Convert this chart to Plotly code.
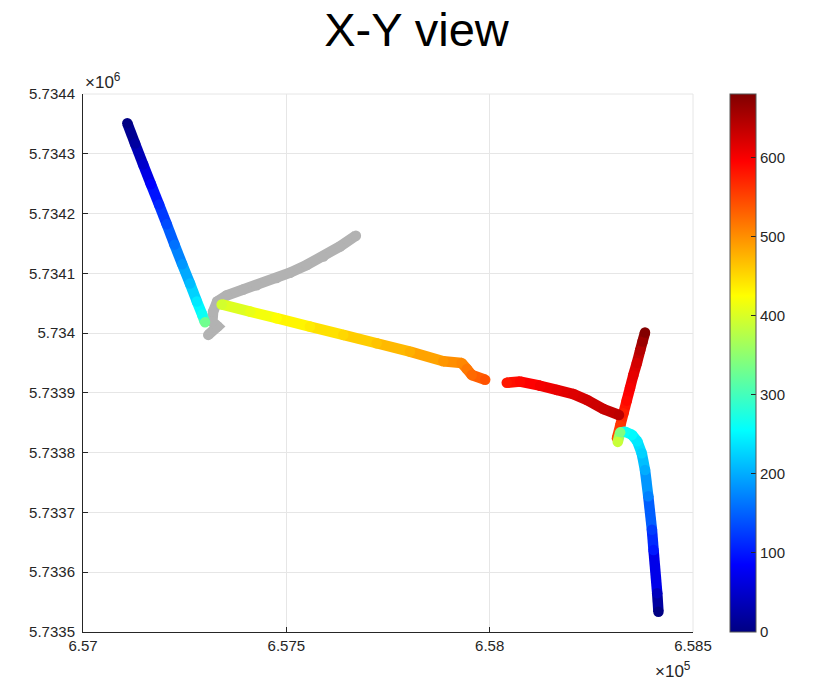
import plotly.graph_objects as go
from plotly.colors import sample_colorscale

# ---- data ----
TITLE = "X-Y view"
X_TICKS = [657000, 657500, 658000, 658500]
X_TICKTEXT = ["6.57", "6.575", "6.58", "6.585"]
Y_TICKS = [5733500, 5733600, 5733700, 5733800, 5733900, 5734000, 5734100, 5734200, 5734300, 5734400]
Y_TICKTEXT = ["5.7335", "5.7336", "5.7337", "5.7338", "5.7339", "5.734", "5.7341", "5.7342", "5.7343", "5.7344"]
CB_TICKS = [0, 100, 200, 300, 400, 500, 600]
CMAX = 680

# gray track (no time colour)
gray_x = [657308, 657331, 657318, 657320, 657330, 657353, 657394, 657427, 657476, 657509, 657550, 657591, 657632, 657671]
gray_y = [5733997, 5734011, 5734019, 5734036, 5734053, 5734063, 5734073, 5734080, 5734092, 5734101, 5734114, 5734128, 5734145, 5734163]

# track A: upper-left, blue -> cyan
a_x = [657109, 657128, 657148, 657167, 657187, 657206, 657225, 657244, 657263, 657280, 657293, 657300]
a_y = [5734351, 5734317, 5734282, 5734249, 5734215, 5734182, 5734148, 5734115, 5734083, 5734053, 5734031, 5734018]
a_t = [0, 20, 50, 85, 110, 135, 160, 185, 210, 240, 262, 330]

# track B: lower-right, blue -> cyan -> green
b_x = [658415, 658412, 658403, 658399, 658390, 658382, 658374, 658363, 658350, 658333, 658321, 658315]
b_y = [5733534, 5733565, 5733637, 5733671, 5733727, 5733771, 5733799, 5733819, 5733830, 5733835, 5733834, 5733818]
b_t = [0, 40, 100, 125, 170, 200, 225, 240, 252, 262, 340, 388]

# track C: middle, yellow -> orange
c_x = [657341, 657411, 657476, 657558, 657640, 657722, 657804, 657886, 657931, 657944, 657956, 657989]
c_y = [5734048, 5734036, 5734025, 5734011, 5733997, 5733983, 5733969, 5733953, 5733950, 5733940, 5733930, 5733922]
c_t = [395, 410, 425, 438, 452, 465, 478, 495, 505, 515, 525, 540]

# track D: red, horizontal
d_x = [658042, 658075, 658124, 658165, 658206, 658240, 658280, 658318]
d_y = [5733917, 5733919, 5733912, 5733905, 5733898, 5733888, 5733873, 5733863]
d_t = [580, 590, 602, 610, 618, 625, 632, 640]

# track E: red, near-vertical
e_x = [658313, 658321, 658329, 658337, 658345, 658353, 658362, 658370, 658376, 658382]
e_y = [5733824, 5733845, 5733866, 5733887, 5733908, 5733929, 5733950, 5733971, 5733986, 5734001]
e_t = [545, 560, 575, 590, 600, 612, 625, 645, 662, 678]

# MATLAB-like jet colour map
JET = [[0.0, "rgb(0,0,131)"], [0.125, "rgb(0,0,255)"], [0.375, "rgb(0,255,255)"],
       [0.625, "rgb(255,255,0)"], [0.875, "rgb(255,0,0)"], [1.0, "rgb(128,0,0)"]]

FONT = "Liberation Sans, Arial, Helvetica, sans-serif"
TXT = "#262626"
LW = 10.5

fig = go.Figure()

# gray track
fig.add_trace(go.Scatter(x=gray_x, y=gray_y, mode="lines+markers",
                         line=dict(color="rgb(178,178,178)", width=LW),
                         marker=dict(size=LW, color="rgb(178,178,178)"),
                         hoverinfo="skip", showlegend=False))


def add_track(xs, ys, ts):
    for i in range(len(xs) - 1):
        c = sample_colorscale(JET, [((ts[i] + ts[i + 1]) / 2) / CMAX])[0]
        fig.add_trace(go.Scatter(x=xs[i:i + 2], y=ys[i:i + 2], mode="lines",
                                 line=dict(color=c, width=LW),
                                 hoverinfo="skip", showlegend=False))
    fig.add_trace(go.Scatter(x=xs, y=ys, mode="markers",
                             marker=dict(size=LW, color=ts, coloraxis="coloraxis",
                                         line=dict(width=0)),
                             showlegend=False))


for xs, ys, ts in [(e_x, e_y, e_t), (d_x, d_y, d_t), (c_x, c_y, c_t),
                   (a_x, a_y, a_t), (b_x, b_y, b_t)]:
    add_track(xs, ys, ts)

axis_common = dict(
    showline=True, linecolor=TXT, linewidth=1,
    ticks="inside", ticklen=5, tickcolor=TXT, tickwidth=1,
    showgrid=True, gridcolor="#e6e6e6", gridwidth=1, zeroline=False,
    tickfont=dict(family=FONT, size=15, color=TXT), mirror=False,
)

fig.update_layout(
    width=813, height=686,
    margin=dict(l=83, r=120, t=94, b=54),
    paper_bgcolor="white", plot_bgcolor="white",
    font=dict(family=FONT, color=TXT),
    title=dict(text=TITLE, x=416.5 / 813, xref="container", xanchor="center",
               y=1 - 30 / 686, yref="container", yanchor="middle",
               font=dict(family=FONT, size=47, color="black")),
    xaxis=dict(range=[657000, 658500], tickvals=X_TICKS, ticktext=X_TICKTEXT, **axis_common),
    yaxis=dict(range=[5733500, 5734400], tickvals=Y_TICKS, ticktext=Y_TICKTEXT,
               ticklabelstandoff=4, **axis_common),
    coloraxis=dict(
        colorscale=JET, cmin=0, cmax=CMAX,
        colorbar=dict(x=(730 - 83) / 610, xanchor="left", y=0.5, yanchor="middle",
                      len=1, lenmode="fraction", thickness=26, thicknessmode="pixels",
                      ypad=0, xpad=0, outlinewidth=1, outlinecolor="#555555",
                      ticks="inside", ticklen=5, tickcolor=TXT, tickvals=CB_TICKS,
                      tickfont=dict(family=FONT, size=15, color=TXT)),
    ),
    shapes=[
        dict(type="line", xref="paper", yref="paper", x0=0, x1=1, y0=1, y1=1,
             line=dict(color="#e6e6e6", width=1), layer="below"),
        dict(type="line", xref="paper", yref="paper", x0=1, x1=1, y0=0, y1=1,
             line=dict(color="#e6e6e6", width=1), layer="below"),
    ],
    annotations=[
        dict(text="×10<sup>6</sup>", xref="paper", yref="paper", x=0, y=1,
             xanchor="left", yanchor="bottom", showarrow=False,
             font=dict(family=FONT, size=17, color=TXT)),
        dict(text="×10<sup>5</sup>", xref="paper", yref="paper", x=1, y=-38 / 538,
             xanchor="right", yanchor="middle", showarrow=False,
             font=dict(family=FONT, size=17, color=TXT)),
    ],
)

fig.write_html("out.html")
